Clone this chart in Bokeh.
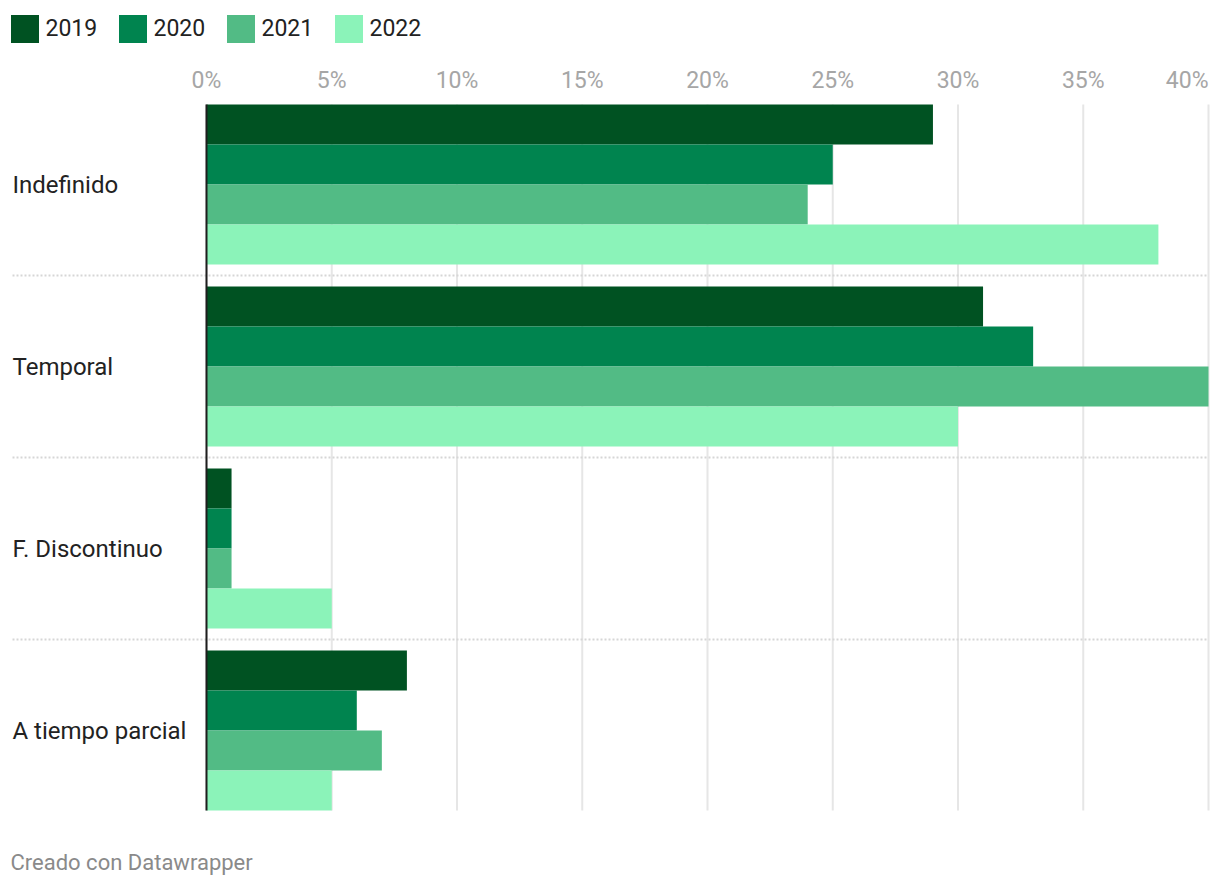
from bokeh.plotting import figure
from bokeh.models import Range1d, ColumnDataSource, Legend, LegendItem
from bokeh.core.properties import value, field
from bokeh.embed import file_html
from bokeh.resources import INLINE

# ---------------- data ----------------
categories = ["Indefinido", "Temporal", "F. Discontinuo", "A tiempo parcial"]
years = ["2019", "2020", "2021", "2022"]
values_2019 = [29, 31, 1, 8]
values_2020 = [25, 33, 1, 6]
values_2021 = [24, 40, 1, 7]
values_2022 = [38, 30, 5, 5]
colors = ["#005222", "#00844f", "#52bb85", "#8bf3b9"]
tick_values = [0, 5, 10, 15, 20, 25, 30, 35, 40]
tick_labels = ["0%", "5%", "10%", "15%", "20%", "25%", "30%", "35%", "40%"]
source_note = "Creado con Datawrapper"

# ---------------- layout (pixels of the page) ----------------
FONT = "Roboto"
W, H = 1220, 888
X0_PX, XMAX_PX = 206, 1208      # where 0 % and the max tick fall
TOP_PX, BAR_PX = 104, 40        # top of first bar, height of one bar
GP = 0.55                        # gap between groups, in bar heights
XMAX = tick_values[-1]
ppu_x = (XMAX_PX - X0_PX) / XMAX


def px_x(px):
    return (px - X0_PX) / ppu_x


def px_y(py):
    return (py - TOP_PX) / BAR_PX


n_years = len(years)
group_step = n_years + GP
bars_end = len(categories) * group_step - GP

p = figure(width=W, height=H,
           x_range=Range1d(px_x(0), px_x(W)),
           y_range=Range1d(px_y(H), px_y(0)),
           output_backend="svg", toolbar_location=None, title=None,
           x_axis_location=None, y_axis_location=None,
           min_border=0, outline_line_color=None,
           background_fill_color="white", border_fill_color="white")
p.xgrid.visible = False
p.ygrid.visible = False

# vertical grid lines
p.segment(x0=tick_values, x1=tick_values, y0=0, y1=bars_end,
          line_color="#e6e6e6", line_width=2)

# separators between groups
sep_y = [g * group_step - GP / 2 for g in range(1, len(categories))]
p.segment(x0=px_x(12), x1=XMAX, y0=sep_y, y1=sep_y,
          line_color="#d6d6d6", line_width=2, line_dash="2 2")

# bars
items = []
for j, (yr, vals, col) in enumerate(zip(years, [values_2019, values_2020, values_2021, values_2022], colors)):
    src = ColumnDataSource(dict(y=[g * group_step + j + 0.5 for g in range(len(categories))],
                                right=vals))
    r = p.hbar(y="y", left=0, right="right", height=1.0, source=src,
               fill_color=col, line_color=None)
    items.append(LegendItem(label=yr, renderers=[r]))

# baseline
p.segment(x0=0, x1=0, y0=0, y1=bars_end, line_color="#1e1e1e", line_width=2)

# category labels
cat_src = ColumnDataSource(dict(cat=categories,
                                y=[g * group_step + n_years / 2 for g in range(len(categories))]))
p.text(x=px_x(12), y="y", text="cat", source=cat_src, text_align="left",
       text_baseline="middle", text_font=value(FONT), text_font_size="24px",
       text_color="#222222")

# tick labels (top)
tick_src = ColumnDataSource(dict(x=tick_values, text=tick_labels,
                                 align=["center"] * (len(tick_values) - 1) + ["right"]))
p.text(x="x", y=px_y(80), text="text", source=tick_src, text_align=field("align"),
       text_baseline="middle", text_font=value(FONT), text_font_size="23px",
       text_color="#a6a6a6")

# legend
legend = Legend(items=items, orientation="horizontal",
                location=(6.5, H - 45.5),
                glyph_width=35, glyph_height=35, label_standoff=4,
                label_width=60, label_height=35, spacing=9, padding=0, margin=0,
                border_line_color=None, background_fill_alpha=0,
                label_text_font=FONT, label_text_font_size="23px",
                label_text_color="#222222", label_text_baseline="middle")
p.add_layout(legend, "center")

# footer
p.text(x=px_x(10), y=px_y(862), text=[source_note], text_align="left",
       text_baseline="middle", text_font=value(FONT), text_font_size="22px",
       text_color="#8a8a8a")

open("out.html", "w").write(file_html(p, INLINE))
